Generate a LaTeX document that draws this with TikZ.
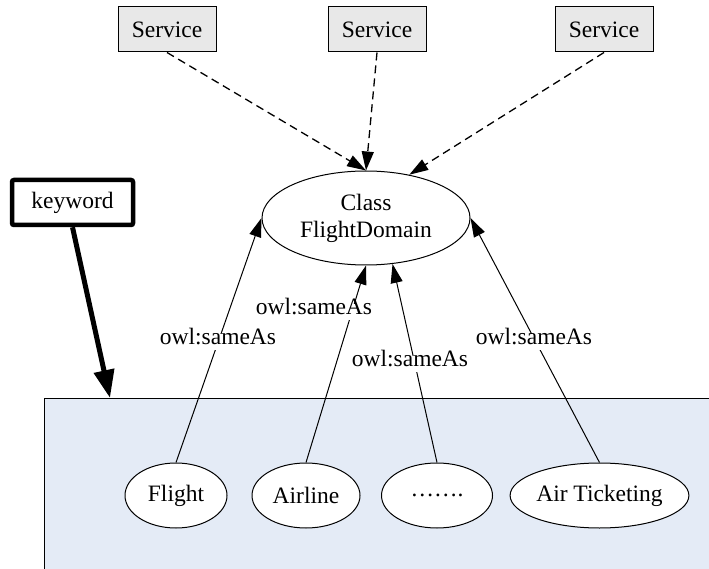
\documentclass[tikz,border=0pt]{standalone}
\usepackage{fontspec}
\setmainfont{Liberation Serif}
\usetikzlibrary{arrows.meta,shapes.geometric}

\definecolor{svcfill}{RGB}{232,232,232}
\definecolor{areafill}{RGB}{228,235,246}

\tikzset{
  every node/.style={font=\fontsize{23.5}{27}\selectfont},
  svc/.style={draw=black, line width=1pt, fill=svcfill, minimum width=98pt, minimum height=45pt, inner sep=0pt},
  cls/.style={ellipse, draw=black, line width=1pt, fill=white, inner sep=0pt, align=center},
  inst/.style={ellipse, draw=black, line width=1pt, fill=white, inner sep=0pt, minimum height=65pt},
  kwbox/.style={draw=black, line width=4.5pt, rounded corners=2pt, fill=white, minimum width=121pt, minimum height=45pt, inner sep=0pt},
  lbl/.style={fill=white, inner sep=3pt, text height=0.72em, text depth=0.22em},
  svcarrow/.style={dashed, dash pattern=on 8pt off 5pt, line width=1.3pt, -{Triangle[length=19pt,width=12pt]}},
  samearrow/.style={line width=1pt, -{Triangle[length=19pt,width=12pt]}},
  kwarrow/.style={line width=5pt, -{Triangle[length=28pt,width=20pt]}}
}

\begin{document}
\begin{tikzpicture}[x=1pt, y=-1pt]
  \useasboundingbox (0,0) rectangle (709,569);

  % shaded keyword area
  \fill[areafill] (44,398) rectangle (709,569);
  \draw[line width=1pt] (44,569) -- (44,398) -- (709,398);
  \coordinate (kwtip) at (110,398);

  % service boxes
  \node[svc] (s1) at (167,29.5) {Service};
  \node[svc] (s2) at (377,29.5) {Service};
  \node[svc] (s3) at (604,29.5) {Service};

  % domain class
  \node[cls, minimum width=208pt, minimum height=94pt] (cls) at (366,218) {Class\\FlightDomain};

  % keyword
  \node[kwbox] (kw) at (72.5,202.5) {keyword};

  % instances
  \node[inst, minimum width=102pt] (f)  at (176,495.5) {Flight};
  \node[inst, minimum width=108pt] (al) at (306,495.5) {Airline};
  \node[inst, minimum width=111pt] (dd) at (437,495.5) {…….};
  \node[inst, minimum width=173pt] (at) at (599.5,495.5) {Air Ticketing};

  % service links
  \draw[svcarrow] (s1.south) -- (cls.north);
  \draw[svcarrow] (s2.south) -- (cls.north);
  \draw[svcarrow] (s3.south) -- (cls.45);

  % owl:sameAs links
  \draw[samearrow] (f.north)  -- (cls.west);
  \draw[samearrow] (al.north) -- (cls.south);
  \draw[samearrow] (dd.north) -- (cls.300);
  \draw[samearrow] (at.north) -- (cls.east);

  \node[lbl] (l1) at (218,342) {owl:sameAs};
  \node[lbl] (l2) at (314,312) {owl:sameAs};
  \node[lbl] (l3) at (410,364) {owl:sameAs};
  \node[lbl] (l4) at (534,342) {owl:sameAs};

  % keyword arrow
  \draw[kwarrow] (kw.south) -- (kwtip);
\end{tikzpicture}
\end{document}
